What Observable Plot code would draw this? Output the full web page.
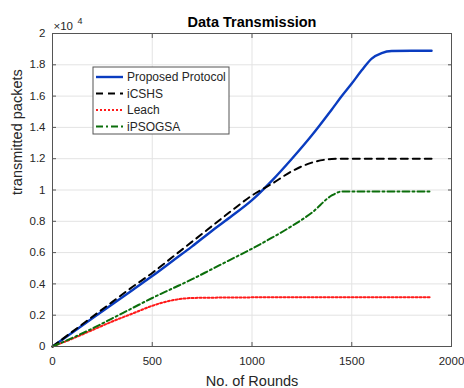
<!DOCTYPE html>
<html><head><meta charset="utf-8">
<script src="https://cdn.jsdelivr.net/npm/d3@7"></script>
<script src="https://cdn.jsdelivr.net/npm/@observablehq/plot@0.6"></script>
<style>body{margin:0;background:#fff} #chart{width:464px;height:388px}</style>
</head><body><div id="chart"></div>
<script>
const rounds   = [0,100,200,300,400,500,600,700,800,900,1000,1100,1200,1300,1400,1450,1500,1550,1600,1650,1700,1800,1900];
const proposed = [0,0.09,0.18,0.27,0.36,0.45,0.545,0.64,0.74,0.835,0.935,1.06,1.2,1.35,1.515,1.6,1.68,1.765,1.84,1.875,1.888,1.89,1.89];
const icshs    = [0,0.095,0.19,0.285,0.38,0.47,0.57,0.67,0.77,0.87,0.965,1.04,1.12,1.175,1.198,1.2,1.2,1.2,1.2,1.2,1.2,1.2,1.2];
const leach    = [0,0.05,0.105,0.16,0.21,0.26,0.295,0.31,0.312,0.313,0.314,0.315,0.315,0.315,0.315,0.315,0.315,0.315,0.315,0.315,0.315,0.315,0.315];
const ipsogsa  = [0,0.055,0.115,0.18,0.245,0.31,0.37,0.43,0.495,0.56,0.625,0.695,0.77,0.855,0.965,0.99,0.99,0.99,0.99,0.99,0.99,0.99,0.99];

const seriesNames  = ["Proposed Protocol","iCSHS","Leach","iPSOGSA"];
const seriesValues = [proposed, icshs, leach, ipsogsa];
const seriesColors = ["#0a3cc0","#000000","#ff1a1a","#0b6e0b"];
const seriesDash   = [null,"7,5","2,2","7,3,2,3"];

const xTicks = [0,500,1000,1500,2000];
const yTicks = [0,0.2,0.4,0.6,0.8,1,1.2,1.4,1.6,1.8,2];

const titleText = "Data Transmission";
const xLabel = "No. of Rounds";
const yLabel = "transmitted packets";

const font = "'Liberation Sans', Arial, Helvetica, sans-serif";

const lineMarks = seriesNames.map((name, i) => {
  const rows = rounds.map((r, j) => ({x: r, y: seriesValues[i][j]}));
  return Plot.line(rows, {x: "x", y: "y", stroke: seriesColors[i], strokeWidth: i === 0 ? 2.4 : 2,
    strokeDasharray: seriesDash[i] || undefined, curve: "monotone-x"});
});

const plot = Plot.plot({
  width: 464, height: 388,
  marginLeft: 52, marginRight: 13, marginTop: 33, marginBottom: 42,
  style: {fontFamily: font, fontSize: "11.5px", color: "#262626", background: "#fff", overflow: "visible"},
  x: {domain: [0, 2000]},
  y: {domain: [0, 2]},
  marks: [
    Plot.gridX(xTicks, {stroke: "#e3e3e3", strokeOpacity: 1}),
    Plot.gridY(yTicks, {stroke: "#e3e3e3", strokeOpacity: 1}),
    ...lineMarks,
    Plot.frame({stroke: "#555"}),
    Plot.axisX(xTicks, {anchor: "bottom", tickSize: -4, tickPadding: 14, label: null, tickFormat: d => String(d), stroke: "#555"}),
    Plot.axisX(xTicks, {anchor: "top", tickSize: -4, label: null, tickFormat: () => "", stroke: "#555"}),
    Plot.axisY(yTicks, {anchor: "left", tickSize: -4, tickPadding: 11, label: null, tickFormat: d => String(d), stroke: "#555"}),
    Plot.axisY(yTicks, {anchor: "right", tickSize: -4, label: null, tickFormat: () => "", stroke: "#555"}),
    Plot.text([titleText], {frameAnchor: "top", lineAnchor: "middle", dy: -11, fontWeight: "bold", fontSize: 14.5, fill: "#000"}),
    Plot.text([xLabel], {frameAnchor: "bottom", lineAnchor: "middle", dy: 35, fontSize: 14.5, fill: "#262626"}),
    Plot.text([yLabel], {frameAnchor: "left", lineAnchor: "middle", dx: -35, dy: 5, rotate: -90, fontSize: 14.5, fill: "#262626"}),
    Plot.text(["×10"], {frameAnchor: "top-left", lineAnchor: "middle", textAnchor: "start", dx: 1, dy: -7, fontSize: 11.5, fill: "#262626"}),
    Plot.text(["4"], {frameAnchor: "top-left", lineAnchor: "middle", textAnchor: "start", dx: 25, dy: -12, fontSize: 9, fill: "#262626"})
  ]
});

document.getElementById("chart").appendChild(plot);

// Legend box drawn inside the plot area
const svg = d3.select(plot);
const lg = svg.append("g").attr("transform", "translate(93,67)")
  .style("font-family", font).attr("text-anchor", "start");
lg.append("rect").attr("width", 136).attr("height", 67).attr("fill", "#fff").attr("stroke", "#555").attr("stroke-width", 1);
seriesNames.forEach((name, i) => {
  const yy = 10 + i * 16.5;
  lg.append("line").attr("x1", 3).attr("x2", 30).attr("y1", yy).attr("y2", yy)
    .attr("stroke", seriesColors[i]).attr("stroke-width", i === 0 ? 2.4 : 2)
    .attr("stroke-dasharray", seriesDash[i]);
  lg.append("text").attr("x", 34).attr("y", yy).attr("dy", "0.35em")
    .attr("text-anchor", "start")
    .attr("font-size", 12).attr("fill", "#262626").text(name);
});
</script>
</body></html>
